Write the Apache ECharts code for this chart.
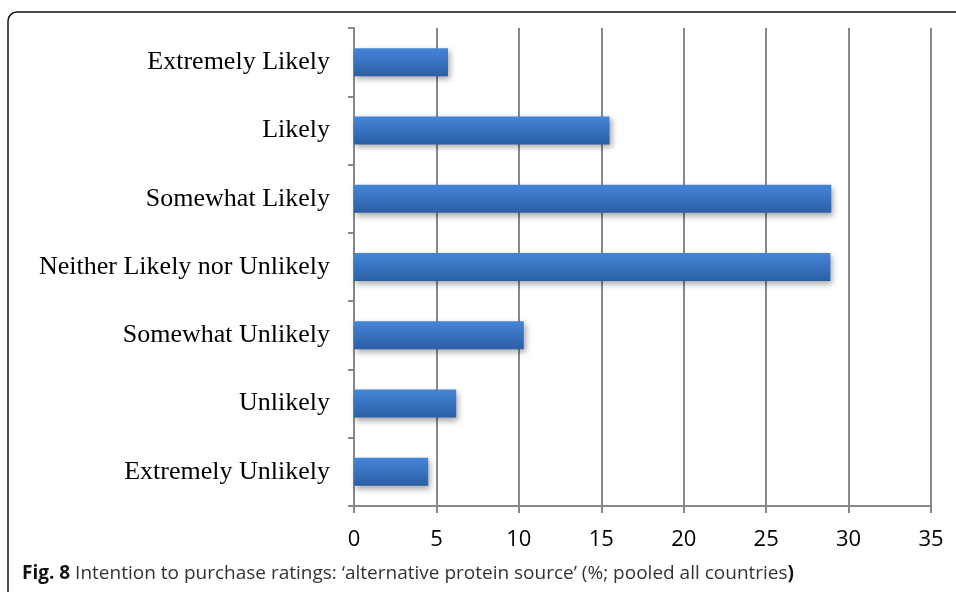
<!DOCTYPE html>
<html>
<head>
<meta charset="utf-8">
<script src="https://cdn.jsdelivr.net/npm/echarts@6/dist/echarts.min.js"></script>
<style>
  html, body { margin: 0; padding: 0; background: #fff; }
  #chart { width: 956px; height: 592px; }
</style>
</head>
<body>
<div id="chart"></div>
<script>
var categories = ['Extremely Unlikely', 'Unlikely', 'Somewhat Unlikely', 'Neither Likely nor Unlikely', 'Somewhat Likely', 'Likely', 'Extremely Likely'];
var values = [4.5, 6.2, 10.3, 28.9, 28.95, 15.5, 5.7];
var xTicks = [0, 5, 10, 15, 20, 25, 30, 35];

var chart = echarts.init(document.getElementById('chart'));
chart.setOption({
    animation: false,
    backgroundColor: '#fff',
    grid: { left: 354, right: 25, top: 28, bottom: 86, containLabel: false },
    xAxis: {
        type: 'value',
        min: xTicks[0],
        max: xTicks[xTicks.length - 1],
        interval: 5,
        axisLine: { show: true, lineStyle: { color: '#888', width: 2 } },
        axisTick: { show: true, length: 7, lineStyle: { color: '#888', width: 2 } },
        splitLine: { show: true, lineStyle: { color: '#888', width: 2 } },
        axisLabel: { color: '#000', fontFamily: 'Open Sans', fontSize: 22, margin: 23 }
    },
    yAxis: {
        type: 'category',
        data: categories,
        axisLine: { show: true, lineStyle: { color: '#888', width: 2 } },
        axisTick: { show: true, length: 6, lineStyle: { color: '#888', width: 2 } },
        axisLabel: { color: '#000', fontFamily: 'Liberation Serif', fontSize: 26, margin: 24 }
    },
    series: [{
        type: 'bar',
        data: values,
        barWidth: 28,
        itemStyle: {
            color: new echarts.graphic.LinearGradient(0, 0, 0, 1, [
                { offset: 0, color: '#4586d8' },
                { offset: 1, color: '#2b5ea6' }
            ]),
            shadowColor: 'rgba(0,0,0,0.35)',
            shadowBlur: 6,
            shadowOffsetX: 2,
            shadowOffsetY: 3
        }
    }],
    graphic: [
        {
            type: 'rect',
            shape: { x: 8, y: 12, width: 1000, height: 600, r: 9 },
            style: { fill: 'none', stroke: '#111', lineWidth: 1.5 },
            silent: true
        },
        {
            type: 'text',
            left: 22,
            top: 564,
            style: {
                text: '{b|Fig. 8} Intention to purchase ratings: \u2018alternative protein source\u2019 (%; pooled all countries{b|)}',
                font: '19px "Open Sans"',
                fill: '#333',
                rich: {
                    b: { fontWeight: 'bold', fontFamily: 'Open Sans', fontSize: 19, fill: '#111' }
                }
            }
        }
    ]
});
</script>
</body>
</html>
